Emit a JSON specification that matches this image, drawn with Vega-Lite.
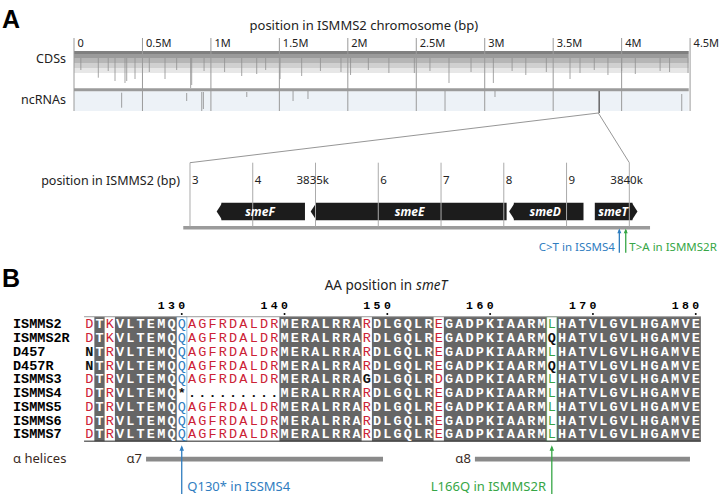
{
  "$schema": "https://vega.github.io/schema/vega-lite/v6.json",
  "background": "white",
  "padding": {"left": 2, "top": 7, "right": 0, "bottom": 0},
  "bounds": "flush",
  "spacing": 0,
  "config": {"view": {"stroke": null}, "text": {"font": "Noto Sans", "color": "#222222"}},
  "vconcat": [
    {
      "width": 628,
      "height": 74,
      "encoding": {
        "x": {"field": "x", "type": "quantitative", "scale": {"domain": [0, 4587000]}, "axis": null},
        "y": {"field": "y", "type": "quantitative", "scale": {"domain": [0, 7.4], "reverse": true}, "axis": null}
      },
      "layer": [
        {
          "data": {"values": [
            {"x": 0, "x2": 4490000, "y": 1.3, "y2": 1.6, "lane": "a"},
            {"x": 0, "x2": 4490000, "y": 1.6, "y2": 2.0, "lane": "b"},
            {"x": 0, "x2": 4490000, "y": 2.0, "y2": 2.5, "lane": "c"},
            {"x": 0, "x2": 4490000, "y": 2.5, "y2": 3.0, "lane": "d"},
            {"x": 0, "x2": 4490000, "y": 3.0, "y2": 3.5, "lane": "e"}
          ]},
          "mark": {"type": "rect"},
          "encoding": {
            "x2": {"field": "x2"}, "y2": {"field": "y2"},
            "color": {"field": "lane", "type": "nominal", "scale": {"domain": ["a", "b", "c", "d", "e"], "range": ["#808080", "#9b9b9b", "#b6b6b6", "#d0d0d0", "#e7e7e7"]}, "legend": null}
          }
        },
        {
          "data": {"values": [
            {"x": 177500, "y": 2.0, "y2": 3.97}, {"x": 299500, "y": 2.0, "y2": 4.3}, {"x": 372500, "y": 2.0, "y2": 4.5},
            {"x": 385000, "y": 2.0, "y2": 4.3}, {"x": 445600, "y": 2.0, "y2": 4.1}, {"x": 664700, "y": 2.0, "y2": 4.1},
            {"x": 852000, "y": 2.0, "y2": 5.0}, {"x": 859700, "y": 2.0, "y2": 4.7}, {"x": 1225000, "y": 2.0, "y2": 3.8},
            {"x": 1334600, "y": 2.0, "y2": 3.6}, {"x": 1505000, "y": 2.0, "y2": 4.1}, {"x": 1663000, "y": 2.0, "y2": 3.8},
            {"x": 2020000, "y": 2.0, "y2": 3.7}, {"x": 2300000, "y": 2.0, "y2": 3.5}, {"x": 2486000, "y": 2.0, "y2": 3.5},
            {"x": 2739000, "y": 2.0, "y2": 4.5}, {"x": 3063000, "y": 2.0, "y2": 4.5}, {"x": 3300000, "y": 2.0, "y2": 3.7},
            {"x": 3623000, "y": 2.0, "y2": 4.1}, {"x": 3696000, "y": 2.0, "y2": 3.5}, {"x": 3900000, "y": 2.0, "y2": 3.7},
            {"x": 4100000, "y": 2.0, "y2": 3.6}, {"x": 4281000, "y": 2.0, "y2": 3.3}, {"x": 4485000, "y": 2.0, "y2": 3.5},
            {"x": 50000, "y": 2.0, "y2": 3.2}, {"x": 250000, "y": 2.0, "y2": 3.3}, {"x": 550000, "y": 2.0, "y2": 3.4},
            {"x": 750000, "y": 2.0, "y2": 3.2}, {"x": 950000, "y": 2.0, "y2": 3.3}, {"x": 1100000, "y": 2.0, "y2": 3.4},
            {"x": 1400000, "y": 2.0, "y2": 3.2}, {"x": 1800000, "y": 2.0, "y2": 3.3}, {"x": 1950000, "y": 2.0, "y2": 3.4},
            {"x": 2150000, "y": 2.0, "y2": 3.2}, {"x": 2600000, "y": 2.0, "y2": 3.3}, {"x": 2900000, "y": 2.0, "y2": 3.4},
            {"x": 3200000, "y": 2.0, "y2": 3.3}, {"x": 3450000, "y": 2.0, "y2": 3.4}, {"x": 3800000, "y": 2.0, "y2": 3.2},
            {"x": 4000000, "y": 2.0, "y2": 3.3}, {"x": 4350000, "y": 2.0, "y2": 3.4}
          ]},
          "mark": {"type": "rule", "color": "#8f8f8f", "strokeWidth": 0.8},
          "encoding": {"y2": {"field": "y2"}}
        },
        {
          "data": {"values": [{"x": 0, "x2": 4490000, "y": 5.33, "y2": 7.3}]},
          "mark": {"type": "rect", "color": "#edf2f7"},
          "encoding": {"x2": {"field": "x2"}, "y2": {"field": "y2"}}
        },
        {
          "data": {"values": [{"x": 0, "x2": 4490000, "y": 5.03, "y2": 5.33}]},
          "mark": {"type": "rect", "color": "#9b9b9b"},
          "encoding": {"x2": {"field": "x2"}, "y2": {"field": "y2"}}
        },
        {
          "data": {"values": [
            {"x": 348000, "y": 5.47, "y2": 6.97}, {"x": 823000, "y": 5.5, "y2": 6.3}, {"x": 933000, "y": 5.4, "y2": 7.3},
            {"x": 945000, "y": 5.4, "y2": 7.1}, {"x": 1262000, "y": 5.4, "y2": 5.9}, {"x": 1600000, "y": 5.3, "y2": 6.3},
            {"x": 1709000, "y": 5.3, "y2": 6.1}, {"x": 2710000, "y": 5.3, "y2": 7.3}, {"x": 3075000, "y": 5.3, "y2": 5.9},
            {"x": 4439000, "y": 5.6, "y2": 7.3}
          ]},
          "mark": {"type": "rule", "color": "#8a8a8a", "strokeWidth": 0.8},
          "encoding": {"y2": {"field": "y2"}}
        },
        {
          "data": {"values": [
            {"x": 0, "y": 0, "y2": 7.3}, {"x": 500000, "y": 0, "y2": 7.3}, {"x": 1000000, "y": 0, "y2": 7.3},
            {"x": 1500000, "y": 0, "y2": 7.3}, {"x": 2000000, "y": 0, "y2": 7.3}, {"x": 2500000, "y": 0, "y2": 7.3},
            {"x": 3000000, "y": 0, "y2": 7.3}, {"x": 3500000, "y": 0, "y2": 7.3}, {"x": 4000000, "y": 0, "y2": 7.3},
            {"x": 4500000, "y": 0, "y2": 7.3}
          ]},
          "mark": {"type": "rule", "color": "#9a9a9a", "strokeWidth": 1},
          "encoding": {"y2": {"field": "y2"}}
        },
        {
          "data": {"values": [{"x": 3836000, "y": 5.3, "y2": 7.5}]},
          "mark": {"type": "rule", "color": "#666666", "strokeWidth": 1.5},
          "encoding": {"y2": {"field": "y2"}}
        },
        {
          "data": {"values": [
            {"x": 0, "y": 0.63, "t": "0"}, {"x": 500000, "y": 0.63, "t": "0.5M"}, {"x": 1000000, "y": 0.63, "t": "1M"},
            {"x": 1500000, "y": 0.63, "t": "1.5M"}, {"x": 2000000, "y": 0.63, "t": "2M"}, {"x": 2500000, "y": 0.63, "t": "2.5M"},
            {"x": 3000000, "y": 0.63, "t": "3M"}, {"x": 3500000, "y": 0.63, "t": "3.5M"}, {"x": 4000000, "y": 0.63, "t": "4M"},
            {"x": 4500000, "y": 0.63, "t": "4.5M"}
          ]},
          "mark": {"type": "text", "align": "left", "baseline": "middle", "dx": 3.5, "fontSize": 11},
          "encoding": {"text": {"field": "t"}}
        },
        {
          "data": {"values": [{"x": 0, "y": 2.05, "t": "CDSs"}, {"x": 0, "y": 6.17, "t": "ncRNAs"}]},
          "mark": {"type": "text", "align": "right", "baseline": "middle", "dx": -8, "fontSize": 12.5},
          "encoding": {"text": {"field": "t"}}
        },
        {
          "data": {"values": [{"x": 2117000, "y": -0.8, "t": "position in ISMMS2 chromosome (bp)"}]},
          "mark": {"type": "text", "align": "center", "baseline": "alphabetic", "fontSize": 13},
          "encoding": {"text": {"field": "t"}}
        },
        {
          "data": {"values": [{"x": 0, "y": -1.03, "t": "A"}]},
          "mark": {"type": "text", "align": "left", "baseline": "alphabetic", "dx": -72, "font": "Liberation Sans", "fontWeight": "bold", "fontSize": 25, "color": "#000000"},
          "encoding": {"text": {"field": "t"}}
        }
      ]
    },
    {
      "width": 628,
      "height": 185,
      "resolve": {"scale": {"color": "independent", "shape": "independent"}},
      "encoding": {
        "x": {"field": "x", "type": "quantitative", "scale": {"domain": [3831.152, 3841.158]}, "axis": null},
        "y": {"field": "y", "type": "quantitative", "scale": {"domain": [0, 18.5], "reverse": true}, "axis": null}
      },
      "layer": [
        {
          "data": {"values": [{"x": 3839.506, "y": 0.1, "x2": 3833, "y2": 5.07}, {"x": 3839.506, "y": 0.1, "x2": 3840, "y2": 5.07}]},
          "mark": {"type": "rule", "color": "#8a8a8a", "strokeWidth": 0.9},
          "encoding": {"x2": {"field": "x2"}, "y2": {"field": "y2"}}
        },
        {
          "data": {"values": [
            {"gene": "smeF", "x": 3833.5, "x2": 3834.832, "y": 9.07, "y2": 10.83},
            {"gene": "smeE", "x": 3835.0, "x2": 3838.045, "y": 9.07, "y2": 10.83},
            {"gene": "smeD", "x": 3838.16, "x2": 3839.27, "y": 9.07, "y2": 10.83},
            {"gene": "smeT", "x": 3839.45, "x2": 3840.05, "y": 9.07, "y2": 10.83}
          ]},
          "mark": {"type": "rect", "color": "#1c1c1c"},
          "encoding": {"x2": {"field": "x2"}, "y2": {"field": "y2"}}
        },
        {
          "data": {"values": [
            {"gene": "smeF", "x": 3833.425, "y": 9.95, "dir": "L"},
            {"gene": "smeE", "x": 3834.923, "y": 9.95, "dir": "L"},
            {"gene": "smeD", "x": 3838.085, "y": 9.95, "dir": "L"},
            {"gene": "smeT", "x": 3840.13, "y": 9.95, "dir": "R"}
          ]},
          "mark": {"type": "point", "filled": true, "color": "#1c1c1c", "size": 310, "opacity": 1},
          "encoding": {"shape": {"field": "dir", "type": "nominal", "scale": {"domain": ["L", "R"], "range": ["M0,0L0.65,-1L0.65,1Z", "M0,0L-0.65,-1L-0.65,1Z"]}, "legend": null}}
        },
        {
          "data": {"values": [{"x": 3832.893, "x2": 3840.33, "y": 11.4, "y2": 11.75}]},
          "mark": {"type": "rect", "color": "#9b9b9b"},
          "encoding": {"x2": {"field": "x2"}, "y2": {"field": "y2"}}
        },
        {
          "data": {"values": [
            {"x": 3833, "y": 5.07, "y2": 11.45}, {"x": 3834, "y": 5.07, "y2": 11.45}, {"x": 3835, "y": 5.07, "y2": 11.45},
            {"x": 3836, "y": 5.07, "y2": 11.45}, {"x": 3837, "y": 5.07, "y2": 11.45}, {"x": 3838, "y": 5.07, "y2": 11.45},
            {"x": 3839, "y": 5.07, "y2": 11.45}, {"x": 3840, "y": 5.07, "y2": 11.45}
          ]},
          "mark": {"type": "rule", "color": "#ababab", "strokeWidth": 1},
          "encoding": {"y2": {"field": "y2"}}
        },
        {
          "data": {"values": [
            {"x": 3834.115, "y": 10.0, "t": "smeF"}, {"x": 3836.5, "y": 10.0, "t": "smeE"},
            {"x": 3838.66, "y": 10.0, "t": "smeD"}, {"x": 3839.74, "y": 10.0, "t": "smeT"}
          ]},
          "mark": {"type": "text", "align": "center", "baseline": "middle", "fontSize": 12, "fontWeight": "bold", "fontStyle": "italic", "color": "#ffffff"},
          "encoding": {"text": {"field": "t"}}
        },
        {
          "data": {"values": [
            {"x": 3833, "y": 6.9, "t": "3"}, {"x": 3834, "y": 6.9, "t": "4"}, {"x": 3836, "y": 6.9, "t": "6"},
            {"x": 3837, "y": 6.9, "t": "7"}, {"x": 3838, "y": 6.9, "t": "8"}, {"x": 3839, "y": 6.9, "t": "9"}
          ]},
          "mark": {"type": "text", "align": "left", "baseline": "middle", "dx": 2, "fontSize": 11.5},
          "encoding": {"text": {"field": "t"}}
        },
        {
          "data": {"values": [{"x": 3835, "y": 6.9, "t": "3835k"}, {"x": 3840, "y": 6.9, "t": "3840k"}]},
          "mark": {"type": "text", "align": "left", "baseline": "middle", "dx": -19, "fontSize": 11.5},
          "encoding": {"text": {"field": "t"}}
        },
        {
          "data": {"values": [{"x": 3833, "y": 6.9, "t": "position in ISMMS2 (bp)"}]},
          "mark": {"type": "text", "align": "right", "baseline": "middle", "dx": -10, "fontSize": 12.5},
          "encoding": {"text": {"field": "t"}}
        },
        {
          "data": {"values": [{"x": 3839.841, "y": 11.8, "y2": 14.07, "s": "ISSMS4"}, {"x": 3839.943, "y": 11.8, "y2": 14.07, "s": "ISMMS2R"}]},
          "mark": {"type": "rule", "strokeWidth": 1.3},
          "encoding": {"y2": {"field": "y2"}, "color": {"field": "s", "type": "nominal", "scale": {"domain": ["ISSMS4", "ISMMS2R"], "range": ["#2f7dbf", "#36a646"]}, "legend": null}}
        },
        {
          "data": {"values": [{"x": 3839.841, "y": 11.65, "s": "ISSMS4"}, {"x": 3839.943, "y": 11.65, "s": "ISMMS2R"}]},
          "mark": {"type": "point", "filled": true, "shape": "M0,0L1,2.4L-1,2.4Z", "size": 16, "opacity": 1},
          "encoding": {"color": {"field": "s", "type": "nominal", "scale": {"domain": ["ISSMS4", "ISMMS2R"], "range": ["#2f7dbf", "#36a646"]}, "legend": null}}
        },
        {
          "data": {"values": [{"x": 3839.841, "y": 13.57, "t": "C>T in ISSMS4"}]},
          "mark": {"type": "text", "align": "right", "baseline": "middle", "dx": -4.5, "fontSize": 11.5, "color": "#2f7dbf"},
          "encoding": {"text": {"field": "t"}}
        },
        {
          "data": {"values": [{"x": 3839.943, "y": 13.57, "t": "T>A in ISMMS2R"}]},
          "mark": {"type": "text", "align": "left", "baseline": "middle", "dx": 3.6, "fontSize": 11.5, "color": "#36a646"},
          "encoding": {"text": {"field": "t"}}
        }
      ]
    },
    {
      "width": 628,
      "height": 198,
      "resolve": {"scale": {"color": "independent"}},
      "encoding": {
        "x": {"field": "x", "type": "quantitative", "scale": {"domain": [119.52, 180.61]}, "axis": null},
        "y": {"field": "y", "type": "quantitative", "scale": {"domain": [-0.985, 13.415], "reverse": true}, "axis": null}
      },
      "layer": [
        {
          "data": {"values": [
            {"x": 121.5, "x2": 122.5, "y": 0.45, "y2": 9.5}, {"x": 123.5, "x2": 129.5, "y": 0.45, "y2": 9.5},
            {"x": 139.5, "x2": 147.5, "y": 0.45, "y2": 9.5}, {"x": 148.5, "x2": 154.5, "y": 0.45, "y2": 9.5},
            {"x": 155.5, "x2": 165.5, "y": 0.45, "y2": 9.5}, {"x": 166.5, "x2": 180.5, "y": 0.45, "y2": 9.5}
          ]},
          "mark": {"type": "rect", "color": "#666666"},
          "encoding": {"x2": {"field": "x2"}, "y2": {"field": "y2"}}
        },
        {
          "data": {"values": [
            {"x": 129.5, "x2": 130.5, "y": 0.45, "y2": 9.5, "s": "ISSMS4"},
            {"x": 165.5, "x2": 166.5, "y": 0.45, "y2": 9.5, "s": "ISMMS2R"}
          ]},
          "mark": {"type": "rect", "filled": false, "strokeWidth": 1, "opacity": 0.5},
          "encoding": {"x2": {"field": "x2"}, "y2": {"field": "y2"}, "color": {"field": "s", "type": "nominal", "scale": {"domain": ["ISSMS4", "ISMMS2R"], "range": ["#2f7dbf", "#36a646"]}, "legend": null}}
        },
        {
          "data": {"values": [{"x": 120.5, "x2": 180.5, "y": 0.45}]},
          "mark": {"type": "rule", "color": "#9a9a9a", "strokeWidth": 1},
          "encoding": {"x2": {"field": "x2"}}
        },
        {
          "data": {"values": [{"x": 120.5, "x2": 180.5, "y": 9.5}]},
          "mark": {"type": "rule", "color": "#222222", "strokeWidth": 1},
          "encoding": {"x2": {"field": "x2"}}
        },
        {
          "data": {"name": "seq"},
          "transform": [{"flatten": ["aa", "cls", "x"]}, {"filter": "datum.cls == 'w' || datum.cls == 'k'"}],
          "mark": {"type": "text", "font": "Liberation Mono", "fontWeight": "bold", "fontSize": 13.5, "align": "center", "baseline": "middle"},
          "encoding": {
            "text": {"field": "aa"},
            "color": {"field": "cls", "type": "nominal", "scale": {"domain": ["w", "k", "r", "b", "g"], "range": ["#ffffff", "#111111", "#cc2236", "#2f7dbf", "#36a646"]}, "legend": null}
          }
        },
        {
          "data": {"name": "seq"},
          "transform": [{"flatten": ["aa", "cls", "x"]}, {"filter": "datum.cls == 'r' || datum.cls == 'b' || datum.cls == 'g'"}],
          "mark": {"type": "text", "font": "Liberation Mono", "fontWeight": "normal", "fontSize": 13.5, "align": "center", "baseline": "middle"},
          "encoding": {
            "text": {"field": "aa"},
            "color": {"field": "cls", "type": "nominal", "scale": {"domain": ["w", "k", "r", "b", "g"], "range": ["#ffffff", "#111111", "#cc2236", "#2f7dbf", "#36a646"]}, "legend": null}
          }
        },
        {
          "data": {"values": [
            {"x": 121, "y": 1, "t": "ISMMS2"}, {"x": 121, "y": 2, "t": "ISMMS2R"}, {"x": 121, "y": 3, "t": "D457"},
            {"x": 121, "y": 4, "t": "D457R"}, {"x": 121, "y": 5, "t": "ISMMS3"}, {"x": 121, "y": 6, "t": "ISMMS4"},
            {"x": 121, "y": 7, "t": "ISMMS5"}, {"x": 121, "y": 8, "t": "ISMMS6"}, {"x": 121, "y": 9, "t": "ISMMS7"}
          ]},
          "mark": {"type": "text", "font": "Liberation Mono", "fontWeight": "bold", "fontSize": 13.5, "align": "left", "baseline": "middle", "dx": -76.2, "color": "#000000"},
          "encoding": {"text": {"field": "t"}}
        },
        {
          "data": {"values": [
            {"x": 128, "y": -0.295, "t": "1"}, {"x": 129, "y": -0.295, "t": "3"}, {"x": 130, "y": -0.295, "t": "0"},
            {"x": 138, "y": -0.295, "t": "1"}, {"x": 139, "y": -0.295, "t": "4"}, {"x": 140, "y": -0.295, "t": "0"},
            {"x": 148, "y": -0.295, "t": "1"}, {"x": 149, "y": -0.295, "t": "5"}, {"x": 150, "y": -0.295, "t": "0"},
            {"x": 158, "y": -0.295, "t": "1"}, {"x": 159, "y": -0.295, "t": "6"}, {"x": 160, "y": -0.295, "t": "0"},
            {"x": 168, "y": -0.295, "t": "1"}, {"x": 169, "y": -0.295, "t": "7"}, {"x": 170, "y": -0.295, "t": "0"},
            {"x": 178, "y": -0.295, "t": "1"}, {"x": 179, "y": -0.295, "t": "8"}, {"x": 180, "y": -0.295, "t": "0"}
          ]},
          "mark": {"type": "text", "font": "Liberation Mono", "fontWeight": "bold", "fontSize": 11.5, "align": "center", "baseline": "middle", "color": "#000000"},
          "encoding": {"text": {"field": "t"}}
        },
        {
          "data": {"values": [
            {"x": 130, "y": 0.25}, {"x": 140, "y": 0.25}, {"x": 150, "y": 0.25},
            {"x": 160, "y": 0.25}, {"x": 170, "y": 0.25}, {"x": 180, "y": 0.25}
          ]},
          "mark": {"type": "point", "filled": true, "shape": "circle", "size": 4, "color": "#000000", "opacity": 1}
        },
        {
          "data": {"values": [
            {"x": 126.53, "x2": 149.58, "y": 10.64, "y2": 10.98},
            {"x": 158.52, "x2": 179.44, "y": 10.64, "y2": 10.98}
          ]},
          "mark": {"type": "rect", "color": "#8a8a8a"},
          "encoding": {"x2": {"field": "x2"}, "y2": {"field": "y2"}}
        },
        {
          "data": {"values": [{"x": 126.53, "y": 10.78, "t": "α7"}, {"x": 158.52, "y": 10.78, "t": "α8"}]},
          "mark": {"type": "text", "align": "right", "baseline": "middle", "dx": -4, "fontSize": 13, "color": "#3a2a1e"},
          "encoding": {"text": {"field": "t"}}
        },
        {
          "data": {"values": [{"x": 121, "y": 10.78, "t": "α helices"}]},
          "mark": {"type": "text", "align": "left", "baseline": "middle", "dx": -76.2, "fontSize": 13, "color": "#3a2a1e"},
          "encoding": {"text": {"field": "t"}}
        },
        {
          "data": {"values": [{"x": 130, "y": 9.95, "y2": 13.42, "s": "ISSMS4"}, {"x": 166, "y": 9.95, "y2": 13.42, "s": "ISMMS2R"}]},
          "mark": {"type": "rule", "strokeWidth": 1.3},
          "encoding": {"y2": {"field": "y2"}, "color": {"field": "s", "type": "nominal", "scale": {"domain": ["ISSMS4", "ISMMS2R"], "range": ["#2f7dbf", "#36a646"]}, "legend": null}}
        },
        {
          "data": {"values": [{"x": 130, "y": 9.8, "s": "ISSMS4"}, {"x": 166, "y": 9.8, "s": "ISMMS2R"}]},
          "mark": {"type": "point", "filled": true, "shape": "M0,0L1,2.4L-1,2.4Z", "size": 20, "opacity": 1},
          "encoding": {"color": {"field": "s", "type": "nominal", "scale": {"domain": ["ISSMS4", "ISMMS2R"], "range": ["#2f7dbf", "#36a646"]}, "legend": null}}
        },
        {
          "data": {"values": [{"x": 130, "y": 12.8, "t": "Q130* in ISSMS4"}]},
          "mark": {"type": "text", "align": "left", "baseline": "middle", "dx": 5.6, "fontSize": 13, "color": "#2f7dbf"},
          "encoding": {"text": {"field": "t"}}
        },
        {
          "data": {"values": [{"x": 166, "y": 12.8, "t": "L166Q in ISMMS2R"}]},
          "mark": {"type": "text", "align": "right", "baseline": "middle", "dx": -5.8, "fontSize": 13, "color": "#36a646"},
          "encoding": {"text": {"field": "t"}}
        },
        {
          "data": {"values": [{"x": 152.6, "y": -1.516, "t": "AA position in"}]},
          "mark": {"type": "text", "align": "right", "baseline": "alphabetic", "dx": -2, "fontSize": 13.5},
          "encoding": {"text": {"field": "t"}}
        },
        {
          "data": {"values": [{"x": 152.6, "y": -1.516, "t": "smeT"}]},
          "mark": {"type": "text", "align": "left", "baseline": "alphabetic", "dx": 2, "fontSize": 13.5, "fontStyle": "italic"},
          "encoding": {"text": {"field": "t"}}
        },
        {
          "data": {"values": [{"x": 121, "y": -1.69, "t": "B"}]},
          "mark": {"type": "text", "align": "left", "baseline": "alphabetic", "dx": -87.2, "font": "Liberation Sans", "fontWeight": "bold", "fontSize": 25, "color": "#000000"},
          "encoding": {"text": {"field": "t"}}
        }
      ]
    }
  ],
  "datasets": {
    "seq": [
      {"y": 1, "aa": ["D","T","K","V","L","T","E","M","Q","Q","A","G","F","R","D","A","L","D","R","M","E","R","A","L","R","R","A","R","D","L","G","Q","L","R","E","G","A","D","P","K","I","A","A","R","M","L","H","A","T","V","L","G","V","L","H","G","A","M","V","E"],
       "cls": ["r","w","r","w","w","w","w","w","w","b","r","r","r","r","r","r","r","r","r","w","w","w","w","w","w","w","w","r","w","w","w","w","w","w","r","w","w","w","w","w","w","w","w","w","w","g","w","w","w","w","w","w","w","w","w","w","w","w","w","w"],
       "x": [121,122,123,124,125,126,127,128,129,130,131,132,133,134,135,136,137,138,139,140,141,142,143,144,145,146,147,148,149,150,151,152,153,154,155,156,157,158,159,160,161,162,163,164,165,166,167,168,169,170,171,172,173,174,175,176,177,178,179,180]},
      {"y": 2, "aa": ["D","T","K","V","L","T","E","M","Q","Q","A","G","F","R","D","A","L","D","R","M","E","R","A","L","R","R","A","R","D","L","G","Q","L","R","E","G","A","D","P","K","I","A","A","R","M","Q","H","A","T","V","L","G","V","L","H","G","A","M","V","E"],
       "cls": ["r","w","r","w","w","w","w","w","w","b","r","r","r","r","r","r","r","r","r","w","w","w","w","w","w","w","w","r","w","w","w","w","w","w","r","w","w","w","w","w","w","w","w","w","w","k","w","w","w","w","w","w","w","w","w","w","w","w","w","w"],
       "x": [121,122,123,124,125,126,127,128,129,130,131,132,133,134,135,136,137,138,139,140,141,142,143,144,145,146,147,148,149,150,151,152,153,154,155,156,157,158,159,160,161,162,163,164,165,166,167,168,169,170,171,172,173,174,175,176,177,178,179,180]},
      {"y": 3, "aa": ["N","T","R","V","L","T","E","M","Q","Q","A","G","F","R","D","A","L","D","R","M","E","R","A","L","R","R","A","R","D","L","G","Q","L","R","E","G","A","D","P","K","I","A","A","R","M","L","H","A","T","V","L","G","V","L","H","G","A","M","V","E"],
       "cls": ["k","w","r","w","w","w","w","w","w","b","r","r","r","r","r","r","r","r","r","w","w","w","w","w","w","w","w","r","w","w","w","w","w","w","r","w","w","w","w","w","w","w","w","w","w","g","w","w","w","w","w","w","w","w","w","w","w","w","w","w"],
       "x": [121,122,123,124,125,126,127,128,129,130,131,132,133,134,135,136,137,138,139,140,141,142,143,144,145,146,147,148,149,150,151,152,153,154,155,156,157,158,159,160,161,162,163,164,165,166,167,168,169,170,171,172,173,174,175,176,177,178,179,180]},
      {"y": 4, "aa": ["N","T","R","V","L","T","E","M","Q","Q","A","G","F","R","D","A","L","D","R","M","E","R","A","L","R","R","A","R","D","L","G","Q","L","R","E","G","A","D","P","K","I","A","A","R","M","Q","H","A","T","V","L","G","V","L","H","G","A","M","V","E"],
       "cls": ["k","w","r","w","w","w","w","w","w","b","r","r","r","r","r","r","r","r","r","w","w","w","w","w","w","w","w","r","w","w","w","w","w","w","r","w","w","w","w","w","w","w","w","w","w","k","w","w","w","w","w","w","w","w","w","w","w","w","w","w"],
       "x": [121,122,123,124,125,126,127,128,129,130,131,132,133,134,135,136,137,138,139,140,141,142,143,144,145,146,147,148,149,150,151,152,153,154,155,156,157,158,159,160,161,162,163,164,165,166,167,168,169,170,171,172,173,174,175,176,177,178,179,180]},
      {"y": 5, "aa": ["D","T","R","V","L","T","E","M","Q","Q","A","G","F","R","D","A","L","D","R","M","E","R","A","L","R","R","A","G","D","L","G","Q","L","R","D","G","A","D","P","K","I","A","A","R","M","L","H","A","T","V","L","G","V","L","H","G","A","M","V","E"],
       "cls": ["r","w","r","w","w","w","w","w","w","b","r","r","r","r","r","r","r","r","r","w","w","w","w","w","w","w","w","k","w","w","w","w","w","w","r","w","w","w","w","w","w","w","w","w","w","g","w","w","w","w","w","w","w","w","w","w","w","w","w","w"],
       "x": [121,122,123,124,125,126,127,128,129,130,131,132,133,134,135,136,137,138,139,140,141,142,143,144,145,146,147,148,149,150,151,152,153,154,155,156,157,158,159,160,161,162,163,164,165,166,167,168,169,170,171,172,173,174,175,176,177,178,179,180]},
      {"y": 6, "aa": ["D","T","R","V","L","T","E","M","Q","*",".",".",".",".",".",".",".",".",".","M","E","R","A","L","R","R","A","R","D","L","G","Q","L","R","E","G","A","D","P","K","I","A","A","R","M","L","H","A","T","V","L","G","V","L","H","G","A","M","V","E"],
       "cls": ["r","w","r","w","w","w","w","w","w","k","k","k","k","k","k","k","k","k","k","w","w","w","w","w","w","w","w","r","w","w","w","w","w","w","r","w","w","w","w","w","w","w","w","w","w","g","w","w","w","w","w","w","w","w","w","w","w","w","w","w"],
       "x": [121,122,123,124,125,126,127,128,129,130,131,132,133,134,135,136,137,138,139,140,141,142,143,144,145,146,147,148,149,150,151,152,153,154,155,156,157,158,159,160,161,162,163,164,165,166,167,168,169,170,171,172,173,174,175,176,177,178,179,180]},
      {"y": 7, "aa": ["D","T","R","V","L","T","E","M","Q","Q","A","G","F","R","D","A","L","D","R","M","E","R","A","L","R","R","A","R","D","L","G","Q","L","R","E","G","A","D","P","K","I","A","A","R","M","L","H","A","T","V","L","G","V","L","H","G","A","M","V","E"],
       "cls": ["r","w","r","w","w","w","w","w","w","b","r","r","r","r","r","r","r","r","r","w","w","w","w","w","w","w","w","r","w","w","w","w","w","w","r","w","w","w","w","w","w","w","w","w","w","g","w","w","w","w","w","w","w","w","w","w","w","w","w","w"],
       "x": [121,122,123,124,125,126,127,128,129,130,131,132,133,134,135,136,137,138,139,140,141,142,143,144,145,146,147,148,149,150,151,152,153,154,155,156,157,158,159,160,161,162,163,164,165,166,167,168,169,170,171,172,173,174,175,176,177,178,179,180]},
      {"y": 8, "aa": ["D","T","R","V","L","T","E","M","Q","Q","A","G","F","R","D","A","L","D","R","M","E","R","A","L","R","R","A","R","D","L","G","Q","L","R","E","G","A","D","P","K","I","A","A","R","M","L","H","A","T","V","L","G","V","L","H","G","A","M","V","E"],
       "cls": ["r","w","r","w","w","w","w","w","w","b","r","r","r","r","r","r","r","r","r","w","w","w","w","w","w","w","w","r","w","w","w","w","w","w","r","w","w","w","w","w","w","w","w","w","w","g","w","w","w","w","w","w","w","w","w","w","w","w","w","w"],
       "x": [121,122,123,124,125,126,127,128,129,130,131,132,133,134,135,136,137,138,139,140,141,142,143,144,145,146,147,148,149,150,151,152,153,154,155,156,157,158,159,160,161,162,163,164,165,166,167,168,169,170,171,172,173,174,175,176,177,178,179,180]},
      {"y": 9, "aa": ["D","T","R","V","L","T","E","M","Q","Q","A","G","F","R","D","A","L","D","R","M","E","R","A","L","R","R","A","R","D","L","G","Q","L","R","E","G","A","D","P","K","I","A","A","R","M","L","H","A","T","V","L","G","V","L","H","G","A","M","V","E"],
       "cls": ["r","w","r","w","w","w","w","w","w","b","r","r","r","r","r","r","r","r","r","w","w","w","w","w","w","w","w","r","w","w","w","w","w","w","r","w","w","w","w","w","w","w","w","w","w","g","w","w","w","w","w","w","w","w","w","w","w","w","w","w"],
       "x": [121,122,123,124,125,126,127,128,129,130,131,132,133,134,135,136,137,138,139,140,141,142,143,144,145,146,147,148,149,150,151,152,153,154,155,156,157,158,159,160,161,162,163,164,165,166,167,168,169,170,171,172,173,174,175,176,177,178,179,180]}
    ]
  }
}
